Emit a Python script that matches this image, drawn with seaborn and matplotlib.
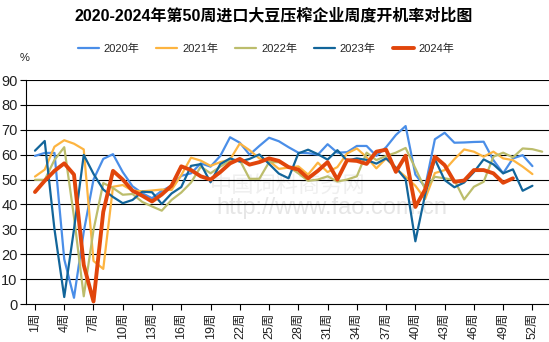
import numpy as np
import pandas as pd
import matplotlib
matplotlib.use("Agg")
import matplotlib.pyplot as plt
import seaborn as sns

title = "2020-2024年第50周进口大豆压榨企业周度开机率对比图"
years = ["2020年", "2021年", "2022年", "2023年", "2024年"]
tick_weeks = list(range(1, 53, 3))
tick_labels = [f"{w}周" for w in tick_weeks]
y_ticks = list(range(0, 91, 10))

v2020 = [59.5, 60.7, 60.7, 18.0, 2.5, 29.0, 50.0, 58.3, 60.2, 53.0,
         47.3, 44.5, 42.5, 45.5, 47.5, 51.5, 52.5, 56.5, 55.2, 59.5,
         67.0, 64.8, 60.0, 63.5, 66.8, 65.4, 63.0, 60.8, 60.6, 60.0,
         64.2, 60.8, 61.0, 63.5, 63.5, 59.5, 63.0, 67.9, 71.5, 52.0,
         47.0, 66.2, 68.8, 64.8, 64.9, 65.1, 65.2, 57.8, 52.5, 58.5,
         59.8, 55.4]
v2021 = [51.2, 54.0, 63.2, 65.8, 64.4, 62.1, 17.3, 14.1, 47.1, 47.8,
         45.5, 45.3, 45.6, 46.0, 45.8, 51.8, 58.8, 57.6, 55.5, 57.0,
         58.0, 64.5, 61.8, 58.5, 57.5, 54.3, 54.8, 55.3, 52.0, 56.8,
         53.0, 55.0, 60.5, 62.5, 59.0, 54.5, 58.5, 54.5, 51.1, 47.5,
         42.2, 52.6, 53.8, 58.2, 62.1, 61.2, 59.2, 61.2, 58.5, 57.8,
         55.2, 52.2]
v2022 = [49.9, 49.9, 57.9, 63.0, 35.0, 3.1, 29.7, 48.6, 46.6, 43.9,
         44.2, 41.0, 39.2, 37.5, 41.8, 44.8, 48.8, 55.2, 52.5, 55.2,
         57.5, 57.8, 50.3, 50.3, 57.0, 57.0, 55.2, 52.5, 49.5, 50.0,
         51.3, 49.2, 50.0, 51.3, 60.8, 57.8, 59.5, 60.8, 62.7, 54.5,
         46.2, 51.1, 50.5, 49.8, 42.0, 47.1, 49.1, 59.2, 60.8, 58.9,
         62.5, 62.2, 61.2]
v2023 = [61.6, 65.5, 30.0, 2.8, 30.0, 59.9, 52.3, 46.0, 43.0, 40.5,
         41.8, 45.1, 44.9, 40.2, 44.4, 47.0, 55.5, 56.2, 48.9, 56.2,
         58.5, 57.2, 58.3, 60.1, 56.3, 52.4, 50.5, 60.5, 62.0, 60.2,
         58.0, 61.8, 57.6, 58.5, 57.9, 56.4, 58.5, 54.8, 50.1, 25.2,
         44.0, 58.2, 49.8, 46.9, 48.8, 53.0, 58.1, 56.1, 52.5, 54.1,
         45.5, 47.5]
v2024 = [45.0, 49.5, 53.5, 56.5, 52.0, 15.7, 1.0, 37.0, 53.5, 50.0,
         45.5, 43.5, 41.2, 44.0, 47.5, 55.3, 53.8, 51.3, 50.0, 53.0,
         56.5, 58.3, 56.0, 57.0, 58.5, 57.5, 55.0, 54.0, 50.5, 53.5,
         57.0, 50.0, 57.8, 57.5, 56.3, 61.2, 62.0, 53.1, 59.6, 39.0,
         46.0, 59.2, 55.8, 49.1, 49.6, 53.8, 53.8, 52.5, 48.7, 50.5]

series = [v2020, v2021, v2022, v2023, v2024]
colors = ["#4a8ee8", "#fdb440", "#bcbd6c", "#12659a", "#e1450b"]
widths = [1.6, 1.6, 1.6, 1.6, 2.8]

rows = []
for yr, vals in zip(years, series):
    for i, v in enumerate(vals):
        rows.append({"year": yr, "week": i + 1, "value": v})
df = pd.DataFrame(rows)

sns.set_theme(style="white")
plt.rcParams["font.family"] = ["Liberation Sans", "Noto Sans CJK SC", "DejaVu Sans"]

fig = plt.figure(figsize=(5.49, 3.42), dpi=100)
ax = fig.add_axes([26 / 549, 1 - 304 / 342, 523 / 549, 224 / 342])

# watermark
ax.text(0.5, 0.53, "中国饲料商务网", transform=ax.transAxes, ha="center", va="center",
        fontsize=16, color="#efefef", zorder=0, family=["Noto Sans CJK SC"])
ax.text(0.585, 0.43, "http://www.fao.com.cn", transform=ax.transAxes, ha="center", va="center",
        fontsize=17, color="#e6e6e6", zorder=0)

for yr, c, lw in zip(years, colors, widths):
    sns.lineplot(data=df[df["year"] == yr], x="week", y="value", color=c,
                 linewidth=lw, ax=ax, label=yr, zorder=3)

ax.set_xlim(0.08, 53.7)
ax.set_ylim(0, 90)
ax.set_yticks(y_ticks)
ax.set_yticklabels([str(t) for t in y_ticks], fontsize=10.5, color="#222222")
ax.set_xticks(tick_weeks)
ax.set_xticklabels(tick_labels, rotation=90, fontsize=9, color="#222222",
                   va="top", ha="center")
ax.set_xlabel("")
ax.set_ylabel("")
for t in y_ticks[1:]:
    ax.axhline(t, color="black", linewidth=0.8, zorder=1)
for s in ["top", "right"]:
    ax.spines[s].set_visible(False)
for s in ["left", "bottom"]:
    ax.spines[s].set_color("black")
    ax.spines[s].set_linewidth(0.8)
ax.tick_params(axis="both", which="both", direction="out", length=4, width=0.8,
               color="black", pad=2, left=True, bottom=True)

handles, labels = ax.get_legend_handles_labels()
ax.get_legend().remove()
fig.legend(handles, labels, loc="center", bbox_to_anchor=(266 / 549, 1 - 49 / 342),
           ncol=5, frameon=False, fontsize=8, handlelength=1.9, handletextpad=0.45,
           columnspacing=1.5)

fig.text(274 / 549, 1 - 15 / 342, title, ha="center", va="center", fontsize=11.5,
         fontweight="bold", color="black")
fig.text(24.5 / 549, 1 - 58 / 342, "%", ha="center", va="center", fontsize=8, color="#222222")

fig.savefig("out.png", dpi=100)
